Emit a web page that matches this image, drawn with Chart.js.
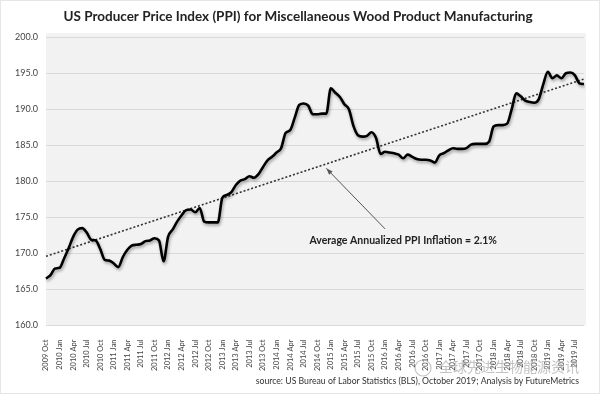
<!DOCTYPE html>
<html>
<head>
<meta charset="utf-8">
<script src="https://cdn.jsdelivr.net/npm/chart.js@4.4.1/dist/chart.umd.min.js"></script>
<style>
    body { margin: 0; background: #fff; }
    #wrap { width: 600px; height: 394px; box-sizing: border-box; border: 1px solid #e6e6e6; }
</style>
</head>
<body>
<div id="wrap"><canvas id="myChart" width="598" height="392"></canvas></div>
<script>
// months from 2009 Oct to 2019 Sep
const monthNames = ['Jan','Feb','Mar','Apr','May','Jun','Jul','Aug','Sep','Oct','Nov','Dec'];
const labels = [];
for (let y = 2009; y <= 2019; y++) {
    monthNames.forEach((m, k) => {
        if ((y === 2009 && k < 9) || (y === 2019 && k > 8)) return;
        labels.push(y + ' ' + m);
    });
}

// PPI values
const ppi = [
    166.5, 167.0, 167.9, 168.0, 169.3, 170.7, 172.3, 173.3, 173.5, 172.9,
    171.9, 171.8, 170.6, 169.1, 169.0, 168.6, 168.1, 169.5, 170.5, 171.1,
    171.2, 171.3, 171.7, 171.8, 172.1, 171.8, 168.9, 172.3, 173.3, 174.4,
    175.3, 176.0, 176.1, 175.7, 176.3, 174.4, 174.3, 174.3, 174.3, 177.7,
    178.1, 178.5, 179.5, 180.1, 180.3, 180.7, 180.5, 181.0, 182.0, 182.9,
    183.4, 184.0, 184.6, 186.7, 187.1, 188.8, 190.6, 190.8, 190.5, 189.3,
    189.3, 189.4, 189.4, 192.9, 192.3, 191.7, 190.7, 190.0, 187.7, 186.4,
    186.2, 186.3, 186.8, 186.0, 183.8, 184.1, 184.0, 183.9, 183.7, 183.2,
    183.7, 183.4, 183.1, 183.0, 183.0, 182.9, 182.6, 183.6, 183.9, 184.3,
    184.6, 184.5, 184.5, 184.6, 185.1, 185.2, 185.2, 185.2, 185.5, 187.6,
    187.8, 187.8, 188.0, 190.0, 192.2, 191.8, 191.2, 191.0, 190.9, 191.4,
    193.5, 195.2, 194.3, 194.7, 194.3, 195.0, 195.1, 194.7, 193.6, 193.5
];

// trend line end points
const trendPoints = [
    { x: '2009 Oct', y: 169.6 },
    { x: '2019 Sep', y: 194.2 }
];

// annotation: arrow tail/tip and text position (category, value)
const noteText = 'Average Annualized PPI Inflation = 2.1%';
const notePos = { x: '2016 May', y: 171.8 };
const arrowTail = { x: '2016 Jan', y: 173.4 };
const arrowTip = { x: '2014 Dec', y: 181.8 };

const sourceText = 'source: US Bureau of Labor Statistics (BLS), October 2019; Analysis by FutureMetrics';
const watermark = '全球先进生物能源资讯';

const plotBg = {
    id: 'plotBg',
    beforeDraw(chart) {
        const { ctx, chartArea: a } = chart;
        ctx.save();
        ctx.fillStyle = '#f2f2f2';
        ctx.fillRect(a.left, a.top - 4, a.right - a.left + 2, a.bottom - a.top + 4);
        ctx.restore();
    }
};

const lineShadow = {
    id: 'lineShadow',
    beforeDatasetDraw(chart, args) {
        if (args.index !== 0) return;
        const ctx = chart.ctx;
        ctx.save();
        ctx.shadowColor = 'rgba(0,0,0,0.35)';
        ctx.shadowBlur = 3;
        ctx.shadowOffsetX = 1;
        ctx.shadowOffsetY = 2;
    },
    afterDatasetDraw(chart, args) {
        if (args.index !== 0) return;
        chart.ctx.restore();
    }
};

const note = {
    id: 'note',
    afterDraw(chart) {
        const { ctx, scales: { x, y } } = chart;
        const px = (p) => [x.getPixelForValue(labels.indexOf(p.x)), y.getPixelForValue(p.y)];
        const [tx, ty] = px(arrowTail);
        const [hx, hy] = px(arrowTip);
        ctx.save();
        ctx.strokeStyle = '#555';
        ctx.fillStyle = '#555';
        ctx.lineWidth = 1;
        ctx.beginPath();
        ctx.moveTo(tx, ty);
        ctx.lineTo(hx, hy);
        ctx.stroke();
        const ang = Math.atan2(hy - ty, hx - tx);
        ctx.beginPath();
        ctx.moveTo(hx, hy);
        ctx.lineTo(hx - 7 * Math.cos(ang - 0.35), hy - 7 * Math.sin(ang - 0.35));
        ctx.lineTo(hx - 7 * Math.cos(ang + 0.35), hy - 7 * Math.sin(ang + 0.35));
        ctx.closePath();
        ctx.fill();

        const [nx, ny] = px(notePos);
        ctx.font = 'bold 10.5px Lato';
        ctx.fillStyle = '#222';
        ctx.textAlign = 'center';
        ctx.textBaseline = 'middle';
        ctx.fillText(noteText, nx, ny);

        // source + watermark
        ctx.font = '8.7px Lato';
        ctx.fillStyle = '#333';
        ctx.textAlign = 'right';
        ctx.fillText(sourceText, 578, 380);
        ctx.font = '14px "Noto Sans CJK SC"';
        ctx.fillStyle = 'rgba(170,170,170,0.7)';
        ctx.textAlign = 'left';
        ctx.fillText(watermark, 438, 366);
        ctx.strokeStyle = 'rgba(170,170,170,0.7)';
        ctx.lineWidth = 1.2;
        ctx.beginPath();
        ctx.arc(422, 367, 8, 0, Math.PI * 2);
        ctx.stroke();
        ctx.restore();
    }
};

const chart = new Chart(document.getElementById('myChart'), {
    type: 'line',
    data: {
        labels: labels,
        datasets: [{
            data: ppi,
            borderColor: '#000',
            borderWidth: 2.6,
            pointRadius: 0,
            cubicInterpolationMode: 'monotone'
        }, {
            data: trendPoints,
            borderColor: '#333',
            borderWidth: 1.6,
            borderDash: [2, 2],
            pointRadius: 0
        }]
    },
    options: {
        responsive: false,
        animation: false,
        layout: { padding: { left: 6, right: 10, bottom: 16, top: 0 } },
        plugins: {
            legend: { display: false },
            tooltip: { enabled: false },
            title: {
                display: true,
                text: 'US Producer Price Index (PPI) for Miscellaneous Wood Product Manufacturing',
                color: '#222',
                font: { family: 'Lato', size: 13.5, weight: 'bold' },
                padding: { top: 8, bottom: 12 }
            }
        },
        scales: {
            x: {
                grid: { display: false },
                border: { display: false },
                ticks: {
                    autoSkip: false,
                    maxRotation: 90,
                    minRotation: 90,
                    padding: 6,
                    color: '#444',
                    font: { family: 'Lato', size: 7.5 },
                    callback: (v, i) => i % 3 === 0 ? labels[i] : ''
                }
            },
            y: {
                min: 160,
                max: 200,
                grid: { color: '#d9d9d9', drawTicks: false },
                border: { display: false },
                ticks: {
                    stepSize: 5,
                    padding: 8,
                    color: '#444',
                    font: { family: 'Lato', size: 9 },
                    callback: (v) => v.toFixed(1)
                }
            }
        }
    },
    plugins: [plotBg, lineShadow, note]
});
</script>
</body>
</html>
